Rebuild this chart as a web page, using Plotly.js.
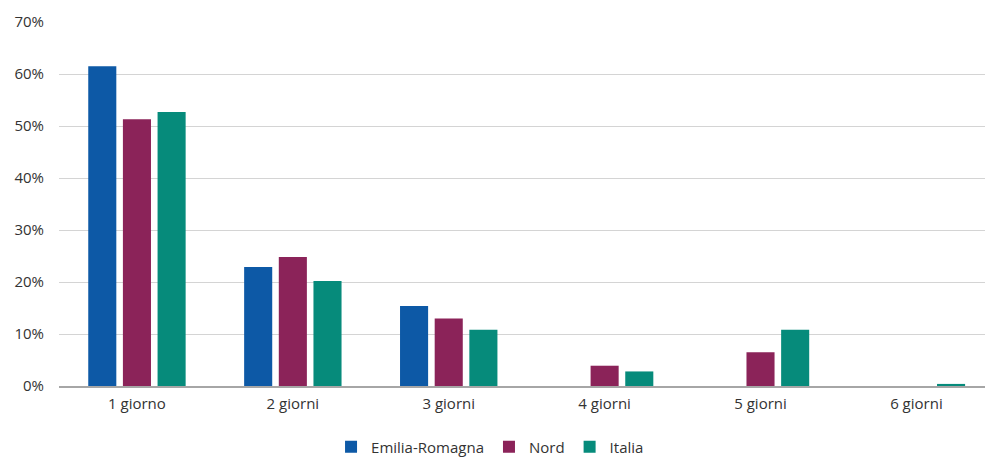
<!DOCTYPE html>
<html>
<head>
<meta charset="utf-8">
<script src="https://cdn.plot.ly/plotly-3.0.1.min.js"></script>
<style>
  html, body { margin: 0; padding: 0; background: #ffffff; overflow: hidden; }
  #chart { width: 986px; height: 457px; }
</style>
</head>
<body>
<div id="chart"></div>
<script>
// Share of cases by number of days
const categories = ['1 giorno', '2 giorni', '3 giorni', '4 giorni', '5 giorni', '6 giorni'];
const emiliaRomagna = [0.615, 0.229, 0.154, 0, 0, 0];
const nord = [0.513, 0.248, 0.130, 0.039, 0.065, 0];
const italia = [0.527, 0.202, 0.108, 0.028, 0.108, 0.004];
const yTickVals = [0, 0.1, 0.2, 0.3, 0.4, 0.5, 0.6, 0.7];
const yTickText = ['0%', '10%', '20%', '30%', '40%', '50%', '60%', '70%'];

const fontFamily = '"Open Sans", "Noto Sans", sans-serif';
const textColor = '#333333';

const traces = [
  { name: 'Emilia-Romagna', y: emiliaRomagna, color: '#0D59A6' },
  { name: 'Nord', y: nord, color: '#8B2359' },
  { name: 'Italia', y: italia, color: '#068B7B' }
].map(s => ({
  type: 'bar',
  name: s.name,
  x: categories,
  y: s.y,
  marker: { color: s.color, line: { width: 0 } },
  hoverinfo: 'skip'
}));

const layout = {
  width: 986,
  height: 457,
  margin: { l: 59, r: 1, t: 22, b: 71 },
  paper_bgcolor: '#ffffff',
  plot_bgcolor: '#ffffff',
  font: { family: fontFamily, size: 15, color: textColor },
  barmode: 'group',
  bargap: 0.333,
  bargroupgap: 0.19,
  showlegend: true,
  legend: {
    orientation: 'h',
    xref: 'container',
    yref: 'container',
    x: 0.497,
    xanchor: 'center',
    y: 0.022,
    yanchor: 'middle',
    font: { family: fontFamily, size: 15, color: textColor },
    itemwidth: 30,
    tracegroupgap: 0
  },
  xaxis: {
    type: 'category',
    range: [-0.5, 5.44],
    showgrid: false,
    showline: true,
    linecolor: '#a6a6a6',
    linewidth: 2,
    ticks: '',
    ticklabelstandoff: 3,
    tickfont: { family: fontFamily, size: 15, color: textColor },
    fixedrange: true
  },
  yaxis: {
    range: [0, 0.7],
    tickvals: yTickVals,
    ticktext: yTickText,
    showgrid: true,
    gridcolor: '#d4d4d4',
    gridwidth: 1,
    zeroline: false,
    showline: false,
    ticks: '',
    ticklabelstandoff: 14,
    tickfont: { family: fontFamily, size: 15, color: textColor },
    fixedrange: true
  }
};

Plotly.newPlot('chart', traces, layout, { staticPlot: true, displayModeBar: false });
</script>
</body>
</html>
